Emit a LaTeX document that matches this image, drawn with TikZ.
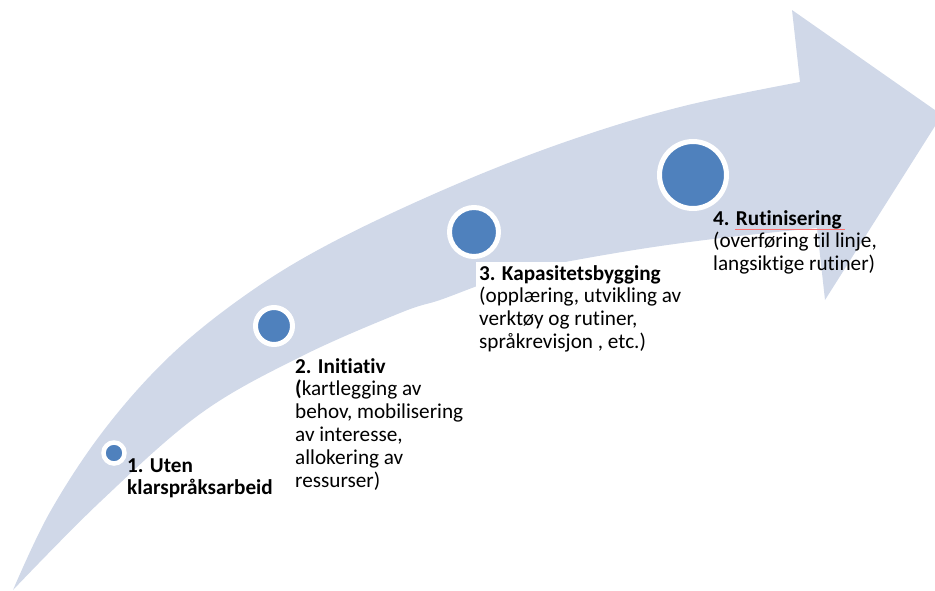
\documentclass[tikz,border=0pt]{standalone}
\usepackage{fontspec}
\setmainfont{Carlito}[Ligatures=NoCommon]
\definecolor{arrowfill}{HTML}{D0D8E8}
\definecolor{dotblue}{HTML}{4F81BD}
\begin{document}
\begin{tikzpicture}[x=1pt,y=-1pt,
  dot/.style={circle,fill=dotblue,draw=white,line width=5pt,inner sep=0pt},
  lbl/.style={anchor=base west,inner sep=0pt,font=\fontsize{21.2}{22.9}\selectfont}]
\useasboundingbox (0,0) rectangle (935,590);
\clip (0,0) rectangle (935,590);
\fill[arrowfill] plot[smooth,tension=0.6] coordinates {(13,590) (50,512) (104,430) (170,356) (247,294) (331,243) (450,187) (565,142) (680,107) (800,82)}
  -- (792,10) -- (942,115) -- (825,300) -- (817,228)
  -- plot[smooth,tension=0.6] coordinates {(817,228) (730,237) (647,248) (560,263) (513,274) (480,285) (440,300) (400,313) (300,357) (200,414) (100,502) (13,590)} -- cycle;
% white background of the third text box
\fill[white] (476,262) rectangle (700,356);
\node[dot,minimum size=21pt,line width=4.5pt] (c1) at (114,453) {};
\node[dot,minimum size=37pt] (c2) at (274,326) {};
\node[dot,minimum size=49pt] (c3) at (474,232) {};
\node[dot,minimum size=67pt] (c4) at (693,175) {};
\node[lbl] (t1) at (127,472) {\begin{tabular}[t]{@{}l@{}}\bfseries 1. Uten\\ \bfseries klarspråksarbeid\end{tabular}};
\node[lbl] (t2) at (295,373) {\begin{tabular}[t]{@{}l@{}}\bfseries 2. Initiativ\\ \textbf{(}kartlegging av\\ behov, mobilisering\\ av interesse,\\ allokering av\\ ressurser)\end{tabular}};
\node[lbl] (t3) at (479,280) {\begin{tabular}[t]{@{}l@{}}\bfseries 3. Kapasitetsbygging\\ (opplæring, utvikling av\\ verktøy og rutiner,\\ språkrevisjon , etc.)\end{tabular}};
\node[lbl] (t4) at (713,225) {\begin{tabular}[t]{@{}l@{}}\bfseries 4. Rutinisering\\ (overføring til linje,\\ langsiktige rutiner)\end{tabular}};
\draw[red!55,line width=0.6pt] (735,229) -- (845,229);
\end{tikzpicture}
\end{document}
